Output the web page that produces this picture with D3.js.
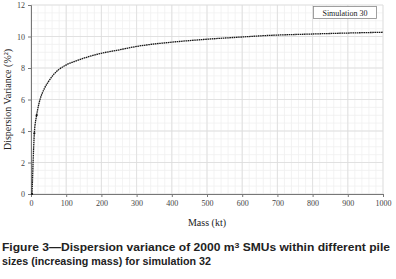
<!DOCTYPE html>
<html><head><meta charset="utf-8">
<script src="https://cdn.jsdelivr.net/npm/d3@7"></script>
<style>body{margin:0;background:#fff}svg{display:block}</style>
</head><body><svg width="396" height="279"></svg>
<script>
// Dispersion variance vs pile mass, simulation 30
const mass = [3, 9.5, 16, 24, 38, 50, 60, 70, 80, 97, 134, 199, 248, 295, 395, 450, 508, 600, 659, 801, 900, 1000];
const variance = [0, 3.85, 5.0, 5.86, 6.7, 7.15, 7.47, 7.72, 7.92, 8.16, 8.5, 8.93, 9.14, 9.35, 9.63, 9.74, 9.84, 9.97, 10.05, 10.16, 10.22, 10.27];
const xTicks = [0, 100, 200, 300, 400, 500, 600, 700, 800, 900, 1000];
const yTicks = [0, 2, 4, 6, 8, 10, 12];

const svg = d3.select('svg');
const x = d3.scaleLinear().domain([0, 1000]).range([31, 383]);
const y = d3.scaleLinear().domain([0, 12]).range([194, 5]);
const serif = '"Liberation Serif", "DejaVu Serif", serif';

// minor + major grid
svg.append('g').selectAll('line').data(d3.range(0, 1001, 20)).join('line')
  .attr('x1', d => x(d)).attr('x2', d => x(d)).attr('y1', y(0)).attr('y2', y(12))
  .attr('stroke', '#f0f0f0').attr('stroke-width', 0.8);
svg.append('g').selectAll('line').data(d3.range(0, 12.01, 0.5)).join('line')
  .attr('x1', x(0)).attr('x2', x(1000)).attr('y1', d => y(d)).attr('y2', d => y(d))
  .attr('stroke', '#f0f0f0').attr('stroke-width', 0.8);
svg.append('g').selectAll('line').data(xTicks).join('line')
  .attr('x1', d => x(d)).attr('x2', d => x(d)).attr('y1', y(0)).attr('y2', y(12))
  .attr('stroke', '#dcdcdc').attr('stroke-width', 0.8);
svg.append('g').selectAll('line').data(yTicks).join('line')
  .attr('x1', x(0)).attr('x2', x(1000)).attr('y1', d => y(d)).attr('y2', d => y(d))
  .attr('stroke', '#dcdcdc').attr('stroke-width', 0.8);

const xAxis = svg.append('g').attr('transform', `translate(0,${y(0)})`)
  .call(d3.axisBottom(x).tickValues(xTicks).tickFormat(d3.format('d')).tickSize(3).tickPadding(3));
const yAxis = svg.append('g').attr('transform', `translate(${x(0)},0)`)
  .call(d3.axisLeft(y).tickValues(yTicks).tickSize(3).tickPadding(3));
[xAxis, yAxis].forEach(a => {
  a.select('.domain').attr('stroke', '#777');
  a.selectAll('.tick line').attr('stroke', '#777');
  a.selectAll('text').attr('font-family', serif).attr('font-size', 8).attr('fill', '#444');
});

// curve
svg.append('path').datum(mass.map((m, i) => [m, variance[i]]))
  .attr('fill', 'none').attr('stroke', '#1a1a1a').attr('stroke-width', 1.3)
  .attr('stroke-dasharray', '1.6,0.6')
  .attr('d', d3.line().x(d => x(d[0])).y(d => y(d[1])).curve(d3.curveMonotoneX));
svg.append('g').selectAll('circle').data(mass.slice(0, 3)).join('circle')
  .attr('cx', d => x(d)).attr('cy', (d, i) => y(variance[i])).attr('r', 1.1).attr('fill', '#111');

// legend
svg.append('rect').attr('x', 313.5).attr('y', 6.5).attr('width', 63).attr('height', 12)
  .attr('fill', '#fff').attr('stroke', '#888').attr('stroke-width', 0.8);
svg.append('text').attr('x', 345).attr('y', 15.5).attr('text-anchor', 'middle')
  .attr('font-family', serif).attr('font-size', 8).attr('fill', '#222').text('Simulation 30');

// axis titles
svg.append('text').attr('transform', `translate(11,${y(6)}) rotate(-90)`).attr('text-anchor', 'middle')
  .attr('font-family', serif).attr('font-size', 10).attr('fill', '#222').text('Dispersion Variance (%²)');
svg.append('text').attr('x', 207).attr('y', 226).attr('text-anchor', 'middle')
  .attr('font-family', serif).attr('font-size', 10).attr('fill', '#222').text('Mass (kt)');

// caption
const cap = svg.append('g').attr('font-family', '"Liberation Sans", Arial, sans-serif')
  .attr('font-weight', 'bold').attr('font-size', 11).attr('fill', '#222');
const l1 = cap.append('text').attr('x', 2).attr('y', 251)
  .attr('textLength', 388).attr('lengthAdjust', 'spacingAndGlyphs');
l1.append('tspan').text('Figure 3—Dispersion variance of 2000 m');
l1.append('tspan').attr('dy', -3).attr('font-size', 8).text('3');
l1.append('tspan').attr('dy', 3).text(' SMUs within different pile');
cap.append('text').attr('x', 2).attr('y', 265)
  .attr('textLength', 209).attr('lengthAdjust', 'spacingAndGlyphs')
  .text('sizes (increasing mass) for simulation 32');
</script></body></html>
